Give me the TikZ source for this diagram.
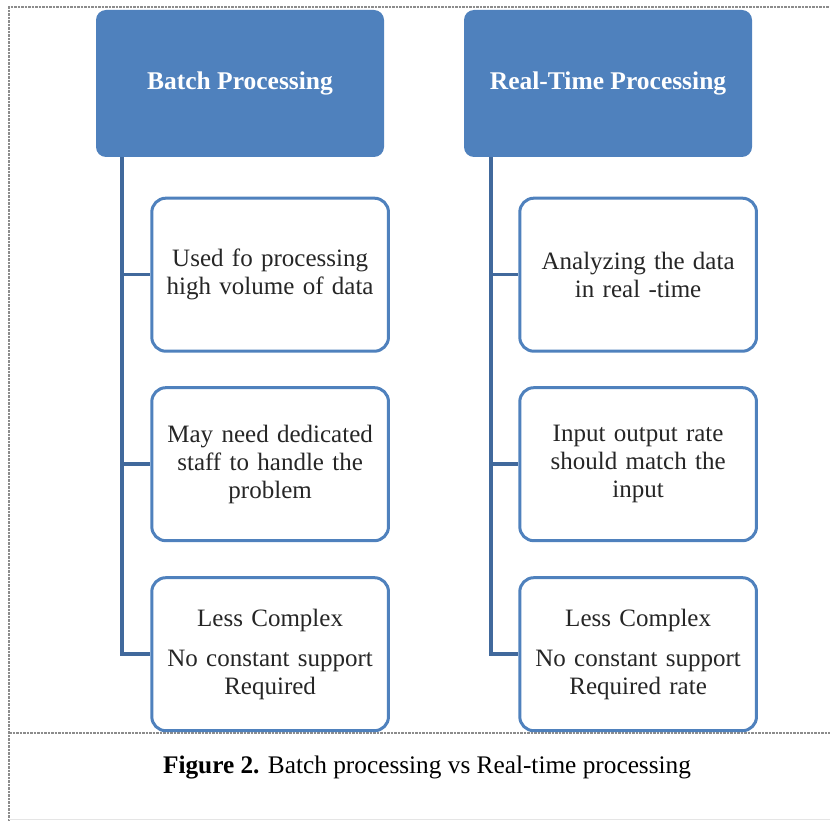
\documentclass[tikz,border=0pt]{standalone}
\usepackage{fontspec}
\setmainfont{Liberation Serif}
\usepackage{xcolor}
\usepackage{tikz}
\usetikzlibrary{positioning}
\definecolor{hdrblue}{HTML}{4F81BD}
\definecolor{treeblue}{HTML}{41699C}

\begin{document}
\begin{tikzpicture}[x=1pt,y=-1pt,
  hdr/.style={fill=hdrblue,rounded corners=10pt,minimum width=288pt,minimum height=147pt,
    text=white,font=\fontsize{25.5}{29}\selectfont\bfseries,align=center},
  sub/.style={draw=hdrblue,line width=3pt,fill=white,rounded corners=14pt,minimum width=235pt,
    minimum height=153pt,text width=230pt,align=center,text=black!85,font=\fontsize{25}{28}\selectfont},
  tree/.style={treeblue,line width=3.5pt},
  frame/.style={gray!90,line width=1.4pt,dash pattern=on 2.5pt off 1pt}]
  \useasboundingbox (0,0) rectangle (830,821);
  \draw[frame] (9,821) -- (9,7) -- (830,7);
  \draw[frame] (9,733) -- (830,733);
  \draw[gray!20,line width=0.8pt] (9,819.5) -- (830,819.5);
  % headers
  \node[hdr] (batch) at (240,83.5) {Batch Processing};
  \node[hdr] (rt) at (608,83.5) {Real-Time Processing};
  % batch column
  \node[sub,below right=39.5pt and 54.5pt of batch.south west,anchor=north west] (b1) {Used fo processing\\high volume of data};
  \node[sub,below=33.5pt of b1] (b2) {May need dedicated\\staff to handle the\\problem};
  \node[sub,below=34pt of b2] (b3) {Less Complex\\[12pt]No constant support\\Required};
  % real-time column
  \node[sub,below right=39.5pt and 54.5pt of rt.south west,anchor=north west] (r1) {Analyzing the data\\in real -time};
  \node[sub,below=33.5pt of r1] (r2) {Input output rate\\should match the\\input};
  \node[sub,below=34pt of r2] (r3) {Less Complex\\[12pt]No constant support\\Required rate};
  % tree lines
  \foreach \c in {b1,b2,b3} \draw[tree] ([xshift=26pt]batch.south west) |- (\c.west);
  \foreach \c in {r1,r2,r3} \draw[tree] ([xshift=27pt]rt.south west) |- (\c.west);
  \node[font=\fontsize{25.3}{29}\selectfont] (caption) at (427,768) {\textbf{Figure 2.} Batch processing vs Real-time processing};
\end{tikzpicture}
\end{document}
